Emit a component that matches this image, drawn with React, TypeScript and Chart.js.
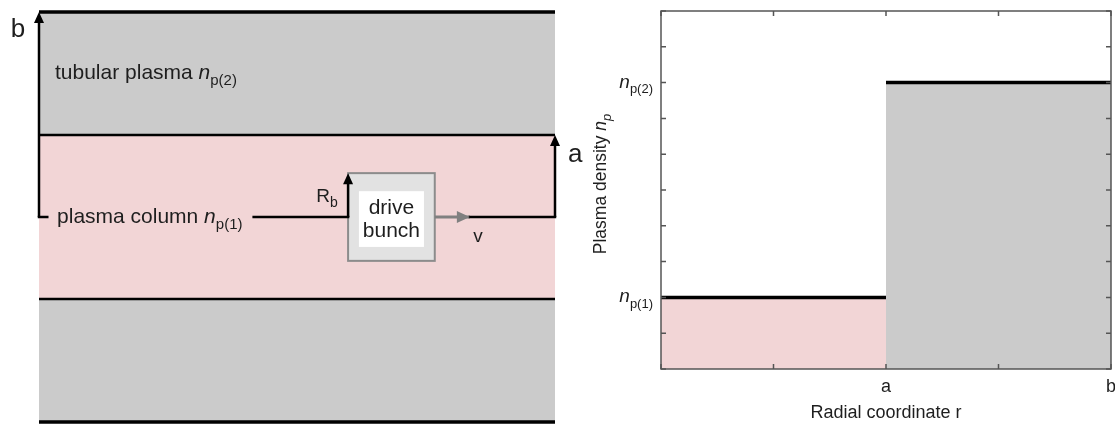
import React, { useEffect, useRef } from 'react';
import { Chart, registerables } from 'chart.js';

Chart.register(...registerables);

const FONT = "'Liberation Sans', Arial, Helvetica, sans-serif";
const INK = '#1e1e1e';
const GRAY = '#cbcbcb';
const PINK = '#f2d5d6';
const FRAME = '#555555';

// ---------- right panel: radial density profile n_p(r) ----------
const radialTicks = [0, 1, 2, 3, 4];
const radialTickLabels = ['', '', 'a', '', 'b'];
const densityTicks = [0, 1, 2, 3, 4, 5, 6, 7, 8, 9, 10];
const columnR = [0, 2]; // 0 .. a
const columnDensity = [2, 2]; // n_p(1)
const tubularR = [2, 4]; // a .. b
const tubularDensity = [8, 8]; // n_p(2)
const densityLabelValues = [2, 8];
const densityLabelSubs = ['p(1)', 'p(2)'];

// ---------- left panel: schematic (z along channel, r radial) ----------
const channelZ = [0, 100];
const boundaryRadii = [5, 2, -2, -5]; // b, a, -a, -b
const boundaryWidths = [3.5, 2.5, 2.5, 3.5];
const regionTops = [5, 2, -2];
const regionBottoms = [2, -2, -5];
const regionColors = [GRAY, PINK, GRAY];
const axisSegStart = [0, 41.6, 83.5];
const axisSegEnd = [1.6, 59.9, 100];
const bunchZ = [59.9, 76.7];
const bunchR = [1.07, -1.07];
const bunchLabelZ = [62.0, 74.6];
const bunchLabelR = [0.63, -0.73];
const velocityZ = [76.7, 83.5];
const arrowZ = [0, 100, 59.9];
const arrowTopR = [5, 2, 1.07];

type Part = { t: string; italic?: boolean; sub?: boolean };

function drawRich(
  ctx: CanvasRenderingContext2D,
  parts: Part[],
  x: number,
  baseline: number,
  size: number,
  subSize: number,
  align: 'left' | 'right' | 'center',
  color = INK
) {
  const fontOf = (p: Part) => `${p.italic ? 'italic ' : ''}${p.sub ? subSize : size}px ${FONT}`;
  const widths = parts.map((p) => {
    ctx.font = fontOf(p);
    return ctx.measureText(p.t).width;
  });
  const total = widths.reduce((a, b) => a + b, 0);
  let cx = align === 'left' ? x : align === 'right' ? x - total : x - total / 2;
  ctx.save();
  ctx.fillStyle = color;
  ctx.textAlign = 'left';
  ctx.textBaseline = 'alphabetic';
  parts.forEach((p, i) => {
    ctx.font = fontOf(p);
    ctx.fillText(p.t, cx, p.sub ? baseline + size * 0.3 : baseline);
    cx += widths[i];
  });
  ctx.restore();
}

function drawHead(ctx: CanvasRenderingContext2D, x: number, y: number, dir: 'up' | 'right', color: string, len = 11, half = 5) {
  ctx.save();
  ctx.fillStyle = color;
  ctx.beginPath();
  if (dir === 'up') {
    ctx.moveTo(x, y);
    ctx.lineTo(x - half, y + len);
    ctx.lineTo(x + half, y + len);
  } else {
    ctx.moveTo(x, y);
    ctx.lineTo(x - len, y - half);
    ctx.lineTo(x - len, y + half);
  }
  ctx.closePath();
  ctx.fill();
  ctx.restore();
}

// schematic text labels (z, r = visual centre)
const schematicLabels: { z: number; r: number; size: number; sub: number; align: 'left' | 'right' | 'center'; parts: Part[] }[] = [
  { z: 3.1, r: 3.5, size: 21, sub: 15, align: 'left', parts: [{ t: 'tubular plasma ' }, { t: 'n', italic: true }, { t: 'p(2)', sub: true }] },
  { z: 3.5, r: 0, size: 21, sub: 15, align: 'left', parts: [{ t: 'plasma column ' }, { t: 'n', italic: true }, { t: 'p(1)', sub: true }] },
  { z: -4.07, r: 4.55, size: 26, sub: 18, align: 'center', parts: [{ t: 'b' }] },
  { z: 103.9, r: 1.51, size: 26, sub: 18, align: 'center', parts: [{ t: 'a' }] },
  { z: 57.9, r: 0.5, size: 19, sub: 14, align: 'right', parts: [{ t: 'R' }, { t: 'b', sub: true }] },
  { z: 85.1, r: -0.49, size: 19, sub: 14, align: 'center', parts: [{ t: 'v' }] },
  { z: 68.3, r: 0.22, size: 21, sub: 15, align: 'center', parts: [{ t: 'drive' }] },
  { z: 68.3, r: -0.34, size: 21, sub: 15, align: 'center', parts: [{ t: 'bunch' }] },
];

const schematicPlugin = {
  id: 'schematicDecor',
  beforeDatasetsDraw(chart: any) {
    const { ctx } = chart;
    const xs = chart.scales.x;
    const ys = chart.scales.y;
    const x0 = xs.getPixelForValue(bunchZ[0]);
    const x1 = xs.getPixelForValue(bunchZ[1]);
    const y0 = ys.getPixelForValue(bunchR[0]);
    const y1 = ys.getPixelForValue(bunchR[1]);
    ctx.save();
    ctx.fillStyle = '#e2e2e2';
    ctx.fillRect(x0, y0, x1 - x0, y1 - y0);
    ctx.strokeStyle = '#8c8c8c';
    ctx.lineWidth = 2;
    ctx.strokeRect(x0, y0, x1 - x0, y1 - y0);
    const wx0 = xs.getPixelForValue(bunchLabelZ[0]);
    const wx1 = xs.getPixelForValue(bunchLabelZ[1]);
    const wy0 = ys.getPixelForValue(bunchLabelR[0]);
    const wy1 = ys.getPixelForValue(bunchLabelR[1]);
    ctx.fillStyle = '#ffffff';
    ctx.fillRect(wx0, wy0, wx1 - wx0, wy1 - wy0);
    ctx.restore();
  },
  afterDatasetsDraw(chart: any) {
    const { ctx } = chart;
    const xs = chart.scales.x;
    const ys = chart.scales.y;
    arrowZ.forEach((z, i) => {
      drawHead(ctx, xs.getPixelForValue(z), ys.getPixelForValue(arrowTopR[i]), 'up', '#000', 11, 5);
    });
    drawHead(ctx, xs.getPixelForValue(velocityZ[1]), ys.getPixelForValue(0), 'right', '#808080', 13, 6);
    schematicLabels.forEach((l) => {
      const px = xs.getPixelForValue(l.z);
      const py = ys.getPixelForValue(l.r);
      drawRich(ctx, l.parts, px, py + l.size * 0.27, l.size, l.sub, l.align);
    });
  },
};

const profilePlugin = {
  id: 'profileFrame',
  afterDatasetsDraw(chart: any) {
    const { ctx, chartArea } = chart;
    const xs = chart.scales.x;
    const ys = chart.scales.y;
    const { left, right, top, bottom } = chartArea;
    ctx.save();
    ctx.strokeStyle = FRAME;
    ctx.lineWidth = 1.5;
    ctx.strokeRect(left, top, right - left, bottom - top);
    ctx.beginPath();
    const tl = 5;
    densityTicks.forEach((v) => {
      const y = ys.getPixelForValue(v);
      ctx.moveTo(left, y);
      ctx.lineTo(left + tl, y);
      ctx.moveTo(right, y);
      ctx.lineTo(right - tl, y);
    });
    radialTicks.forEach((v) => {
      const x = xs.getPixelForValue(v);
      ctx.moveTo(x, bottom);
      ctx.lineTo(x, bottom - tl);
      ctx.moveTo(x, top);
      ctx.lineTo(x, top + tl);
    });
    ctx.stroke();
    ctx.restore();

    densityLabelValues.forEach((v, i) => {
      const y = ys.getPixelForValue(v);
      drawRich(ctx, [{ t: 'n', italic: true }, { t: densityLabelSubs[i], sub: true }], left - 8, y + 5, 19, 13, 'right');
    });

    // y-axis title
    ctx.save();
    ctx.translate(left - 55, (top + bottom) / 2 - 6);
    ctx.rotate(-Math.PI / 2);
    drawRich(ctx, [{ t: 'Plasma density ' }, { t: 'n', italic: true }, { t: 'p', sub: true, italic: true }], 0, 0, 17.5, 13, 'center');
    ctx.restore();
  },
};

function Schematic() {
  const ref = useRef<HTMLCanvasElement | null>(null);
  useEffect(() => {
    if (!ref.current) return;
    const base = { pointRadius: 0, clip: false as const, tension: 0 };
    const fills = regionTops.map((top, i) => ({
      ...base,
      data: channelZ.map((z) => ({ x: z, y: top })),
      fill: { value: regionBottoms[i] },
      backgroundColor: regionColors[i],
      borderWidth: 0,
      borderColor: 'rgba(0,0,0,0)',
    }));
    const boundaries = boundaryRadii.map((r, i) => ({
      ...base,
      data: channelZ.map((z) => ({ x: z, y: r })),
      fill: false,
      borderColor: '#000',
      borderWidth: boundaryWidths[i],
    }));
    const axis = axisSegStart.map((s, i) => ({
      ...base,
      data: [{ x: s, y: 0 }, { x: axisSegEnd[i], y: 0 }],
      fill: false,
      borderColor: '#000',
      borderWidth: 2.5,
      borderCapStyle: 'square',
    }));
    const arrows = arrowZ.map((z, i) => ({
      ...base,
      data: [{ x: z, y: 0 }, { x: z, y: arrowTopR[i] - 0.2 }],
      fill: false,
      borderColor: '#000',
      borderWidth: 2.5,
    }));
    const velocity = {
      ...base,
      data: velocityZ.map((z) => ({ x: z, y: 0 })),
      fill: false,
      borderColor: '#808080',
      borderWidth: 3,
    };
    const chart = new Chart(ref.current, {
      type: 'line',
      data: { datasets: [...fills, ...boundaries, ...axis, ...arrows, velocity] as any },
      options: {
        animation: false,
        responsive: false,
        devicePixelRatio: 1,
        events: [],
        layout: { padding: { left: 39, right: 45, top: 12, bottom: 4 }, autoPadding: false } as any,
        scales: {
          x: { type: 'linear', min: channelZ[0], max: channelZ[1], display: false },
          y: { type: 'linear', min: -5, max: 5, display: false },
        },
        plugins: {
          legend: { display: false },
          tooltip: { enabled: false },
          filler: { drawTime: 'beforeDatasetsDraw' } as any,
        },
      },
      plugins: [schematicPlugin],
    });
    return () => chart.destroy();
  }, []);
  return <canvas ref={ref} width={600} height={426} style={{ position: 'absolute', left: 0, top: 0, width: 600, height: 426 }} />;
}

function Profile() {
  const ref = useRef<HTMLCanvasElement | null>(null);
  useEffect(() => {
    if (!ref.current) return;
    const chart = new Chart(ref.current, {
      type: 'line',
      data: {
        datasets: [
          {
            data: columnR.map((r, i) => ({ x: r, y: columnDensity[i] })),
            fill: 'origin',
            backgroundColor: PINK,
            borderColor: '#000',
            borderWidth: 3.5,
            pointRadius: 0,
            clip: false,
          },
          {
            data: tubularR.map((r, i) => ({ x: r, y: tubularDensity[i] })),
            fill: 'origin',
            backgroundColor: GRAY,
            borderColor: '#000',
            borderWidth: 3.5,
            pointRadius: 0,
            clip: false,
          },
        ] as any,
      },
      options: {
        animation: false,
        responsive: false,
        devicePixelRatio: 1,
        events: [],
        layout: { padding: { left: 91, right: 4, top: 11, bottom: 0 }, autoPadding: false } as any,
        scales: {
          x: {
            type: 'linear',
            min: 0,
            max: 4,
            grid: { display: false, drawTicks: false },
            border: { display: false },
            ticks: {
              stepSize: 1,
              autoSkip: false,
              maxRotation: 0,
              padding: 7,
              color: INK,
              font: { family: FONT, size: 18 },
              callback: (v: any) => {
                const i = radialTicks.indexOf(Number(v));
                return i >= 0 ? radialTickLabels[i] : '';
              },
            },
            title: {
              display: true,
              text: 'Radial coordinate r',
              color: INK,
              font: { family: FONT, size: 18 },
              padding: { top: 0, bottom: 2 },
            },
            afterFit: (s: any) => {
              s.height = 57;
              s.paddingLeft = 0;
              s.paddingRight = 0;
            },
          } as any,
          y: { type: 'linear', min: 0, max: 10, display: false, ticks: { stepSize: 1 } },
        },
        plugins: {
          legend: { display: false },
          tooltip: { enabled: false },
        },
      },
      plugins: [profilePlugin],
    });
    return () => chart.destroy();
  }, []);
  return <canvas ref={ref} width={545} height={426} style={{ position: 'absolute', left: 570, top: 0, width: 545, height: 426 }} />;
}

export default function App() {
  return (
    <div style={{ position: 'absolute', left: 0, top: 0, width: 1115, height: 426, background: '#ffffff', overflow: 'hidden' }}>
      <Schematic />
      <Profile />
    </div>
  );
}
